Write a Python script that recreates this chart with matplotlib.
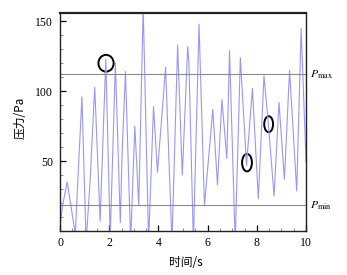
import numpy as np
import matplotlib
matplotlib.use('Agg')
import matplotlib.pyplot as plt
from matplotlib.patches import Ellipse

plt.rcParams['font.family'] = ['Liberation Serif', 'DejaVu Serif']
plt.rcParams['mathtext.fontset'] = 'stix'

# pressure trace (time s, pressure Pa)
time_s = [0.02, 0.11, 0.29, 0.62, 0.89, 1.06, 1.22, 1.41, 1.63, 1.86,
          2.04, 2.25, 2.45, 2.52, 2.66, 2.87, 3.04, 3.20, 3.38, 3.60,
          3.80, 3.96, 4.29, 4.55, 4.78, 4.97, 5.19, 5.24, 5.42, 5.65,
          5.87, 6.21, 6.40, 6.58, 6.78, 6.89, 7.12, 7.33, 7.58, 7.82,
          8.06, 8.29, 8.47, 8.70, 8.90, 9.12, 9.33, 9.62, 9.80, 10.0]
pressure = [6, 19, 35, -2, 96, -8, 35, 103, 7, 123,
            -5, 120, 6, 54, 114, -8, 75, 18.6, 160, -8,
            89, 42, 117, -8, 133, 40, 132, 120, -8, 148,
            18, 87, 33, 94, 52, 129, -8, 124, 47, 102,
            23, 111, 76, 25, 92, 37, 115, 28.6, 145, 49]

p_max = 112
p_min = 18.3

# marked points (time, pressure, width, height)
marks_t = [1.87, 7.60, 8.48]
marks_p = [120, 48.9, 76.4]
marks_w = [0.62, 0.40, 0.36]
marks_h = [12.0, 12.5, 11.4]

fig = plt.figure(figsize=(3.47, 2.75), dpi=100)
ax = fig.add_axes([0.173, 0.16, 0.709, 0.793])

ax.plot(time_s, pressure, color='#9898f4', lw=0.8, solid_joinstyle='round')
ax.axhline(p_max, color='#8a8a8a', lw=0.8)
ax.axhline(p_min, color='#8a8a8a', lw=0.8)

for t, p, w, h in zip(marks_t, marks_p, marks_w, marks_h):
    ax.add_patch(Ellipse((t, p), w, h, fill=False, ec='black', lw=1.4))

ax.set_xlim(0, 10)
ax.set_ylim(0, 156)
ax.set_xticks([0, 2, 4, 6, 8, 10])
ax.set_xticks(np.arange(0, 10.01, 0.5), minor=True)
ax.set_yticks([50, 100, 150])
ax.set_yticks(np.arange(0, 156, 10), minor=True)
ax.tick_params(which='both', direction='in', labelsize=8.5, top=False, right=False)
ax.tick_params(which='major', length=4, width=0.9)
ax.tick_params(which='minor', length=2, width=0.6, color='#777777')
ax.tick_params(axis='y', pad=5)
ax.tick_params(axis='x', pad=4)
for s in ax.spines.values():
    s.set_linewidth(1.0)
    s.set_color('#222222')
ax.spines['top'].set_linewidth(1.6)

ax.text(10.15, p_max, r'$P_{\rm max}$', fontsize=8.5, va='center', ha='left', clip_on=False)
ax.text(10.15, p_min, r'$P_{\rm min}$', fontsize=8.5, va='center', ha='left', clip_on=False)

fig.text(0.536, 0.047, '时间/s', ha='center', va='center', fontsize=8.5,
         family=['Noto Sans CJK SC', 'DejaVu Sans'])
fig.text(0.058, 0.571, '压力/Pa', ha='center', va='center', fontsize=8.5, rotation=90,
         family=['Noto Sans CJK SC', 'DejaVu Sans'])

fig.savefig('out.png', dpi=100)
